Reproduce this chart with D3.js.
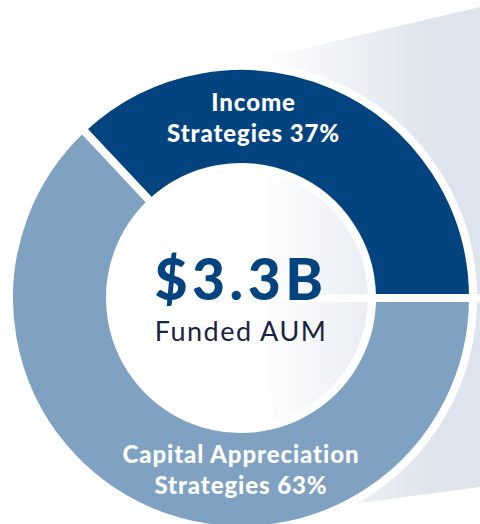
<!DOCTYPE html>
<html>
<head>
<meta charset="utf-8">
<script src="https://cdn.jsdelivr.net/npm/d3@7"></script>
<style>
  html, body { margin: 0; padding: 0; background: #fff; }
  svg { display: block; }
</style>
</head>
<body>
<svg id="chart"></svg>
<script>
// ── 데이터 ──────────────────────────────────────────────
const categories = ["Income Strategies", "Capital Appreciation Strategies"];
const shares     = [37, 63];
const labelLines = [["Income", "Strategies 37%"], ["Capital Appreciation", "Strategies 63%"]];
const totalValue = "$3.3B";
const totalText  = "Funded AUM";

// ── 상수 ──────────────────────────────────────────────────
const WIDTH = 480, HEIGHT = 524;
const CX = 241, CY = 298;
const R_OUT = 232, R_IN = 131;      // 흰 테두리(8px) 포함한 반지름
const COLORS = ["#03437f", "#80a2c2"];
// 라벨 위치 (각도°, 반지름)
const LABEL_POS = [[4, 180], [180, 172]];

const svg = d3.select("#chart").attr("width", WIDTH).attr("height", HEIGHT);

// 오른쪽 그라데이션 부채꼴 (배경)
const defs = svg.append("defs");
const grad = defs.append("linearGradient").attr("id", "fan")
  .attr("gradientUnits", "userSpaceOnUse")
  .attr("x1", 255).attr("y1", 0).attr("x2", 440).attr("y2", 0);
grad.append("stop").attr("offset", 0).attr("stop-color", "#ffffff");
grad.append("stop").attr("offset", 1).attr("stop-color", "#dde4ed");

svg.append("path")
  .attr("d", d3.line()([[CX, CY], [CX, 63], [480, 7], [480, 487], [300, 511]]) + "Z")
  .attr("fill", "url(#fan)");

const g = svg.append("g").attr("transform", `translate(${CX},${CY})`);

// 파이 레이아웃: Income 조각이 3시 방향에서 끝나도록 시작각 설정
const total = d3.sum(shares);
const start = Math.PI / 2 - shares[0] / total * 2 * Math.PI;
const pie = d3.pie().sort(null).startAngle(start).endAngle(start + 2 * Math.PI);
const arc = d3.arc().innerRadius(R_IN).outerRadius(R_OUT);
const arcs = pie(shares);

// 조각 경계의 흰 선을 오른쪽 끝까지 연장
g.append("line")
  .attr("x1", 0).attr("y1", 0)
  .attr("x2", WIDTH).attr("y2", 0)
  .attr("transform", `rotate(${arcs[0].endAngle * 180 / Math.PI - 90})`)
  .attr("stroke", "#fff").attr("stroke-width", 8);

g.selectAll("path.slice")
  .data(arcs)
  .join("path")
  .attr("class", "slice")
  .attr("d", arc)
  .attr("fill", (d, i) => COLORS[i])
  .attr("stroke", "#fff")
  .attr("stroke-width", 8)
  .attr("stroke-linejoin", "miter");

// 조각 라벨
const LINE_H = 31;
g.selectAll("text.label")
  .data(arcs)
  .join("text")
  .attr("class", "label")
  .attr("text-anchor", "middle")
  .attr("font-family", "Lato, sans-serif")
  .attr("font-weight", 900)
  .attr("font-size", 24)
  .attr("letter-spacing", 0.9)
  .attr("fill", "#fff")
  .each(function(d, i) {
    const [x, y] = d3.pointRadial(LABEL_POS[i][0] * Math.PI / 180, LABEL_POS[i][1]);
    const lines = labelLines[i];
    d3.select(this).selectAll("tspan")
      .data(lines)
      .join("tspan")
      .attr("x", x)
      .attr("y", (l, j) => y + 8 + (j - (lines.length - 1) / 2) * LINE_H)
      .text(l => l);
  });

// 가운데 합계
g.append("text")
  .attr("text-anchor", "middle")
  .attr("y", 2)
  .attr("font-family", "Lato, sans-serif")
  .attr("font-weight", 900)
  .attr("font-size", 57)
  .attr("letter-spacing", 4.5)
  .attr("fill", "#03437f")
  .text(totalValue);

g.append("text")
  .attr("text-anchor", "middle")
  .attr("y", 43)
  .attr("font-family", "Lato, sans-serif")
  .attr("font-weight", 400)
  .attr("font-size", 27)
  .attr("letter-spacing", 1.5)
  .attr("fill", "#1b2440")
  .text(totalText);
</script>
</body>
</html>
